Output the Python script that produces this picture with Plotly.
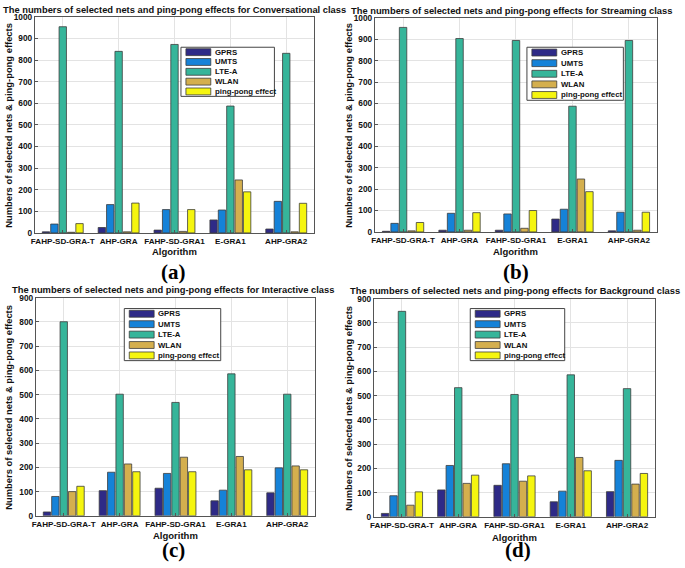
import plotly.graph_objects as go

algorithms = ["FAHP-SD-GRA-T", "AHP-GRA", "FAHP-SD-GRA1", "E-GRA1", "AHP-GRA2"]
series_names = ["GPRS", "UMTS", "LTE-A", "WLAN", "ping-pong effect"]
series_colors = ["#2E2A87", "#1582D8", "#36B59A", "#D4AF4E", "#F5F50F"]

# (a) Conversational class
conv_gprs = [5, 25, 13, 60, 18]
conv_umts = [41, 131, 108, 106, 146]
conv_lte = [954, 840, 872, 587, 831]
conv_wlan = [3, 5, 7, 245, 5]
conv_ping = [43, 138, 108, 190, 137]

# (b) Streaming class
stream_gprs = [3, 8, 8, 60, 5]
stream_umts = [40, 87, 84, 106, 92]
stream_lte = [955, 903, 894, 587, 894]
stream_wlan = [5, 8, 17, 247, 8]
stream_ping = [44, 90, 100, 188, 92]

# (c) Interactive class
inter_gprs = [16, 104, 114, 62, 95]
inter_umts = [80, 180, 175, 106, 198]
inter_lte = [801, 502, 468, 586, 502]
inter_wlan = [100, 214, 242, 245, 206]
inter_ping = [122, 182, 182, 190, 190]

# (d) Background class
back_gprs = [14, 111, 130, 62, 104]
back_umts = [87, 212, 219, 106, 233]
back_lte = [848, 533, 505, 586, 529]
back_wlan = [48, 138, 147, 245, 135]
back_ping = [103, 172, 169, 190, 179]

panel_titles = [
    "The numbers of selected nets and ping-pong effects for Conversational class",
    "The numbers of selected nets and ping-pong effects for Streaming class",
    "The numbers of selected nets and ping-pong effects for Interactive class",
    "The numbers of selected nets and ping-pong effects for Background class",
]
panel_letters = ["(a)", "(b)", "(c)", "(d)"]
y_maxes = [1000, 1000, 900, 900]

panels = [
    [conv_gprs, conv_umts, conv_lte, conv_wlan, conv_ping],
    [stream_gprs, stream_umts, stream_lte, stream_wlan, stream_ping],
    [inter_gprs, inter_umts, inter_lte, inter_wlan, inter_ping],
    [back_gprs, back_umts, back_lte, back_wlan, back_ping],
]

W, H = 685, 568
# plot rectangles in pixels: (x0, x1, ytop, ybottom)
rects = [(31, 312, 12, 232), (373, 657, 13, 231), (32, 313, 298, 520), (372, 655, 299, 521)]
legend_boxes = [(178, 43, 272, 93), (526, 43, 623, 97), (121, 309, 218, 362), (469, 309, 564, 362)]
title_pos = [(171, 5), (510, 6), (170, 290), (514, 291)]
ytitle_x = [5, 347, 5, 347]
algo_pos = [251, 251, 540, 542]
letter_pos = [(170, 272), (515, 272), (170, 555), (517, 555)]

FONT = "Liberation Sans"
TXT = "#111111"
fig = go.Figure()
layout = {}
annotations = []
shapes = []


def px(x):
    return x / W


def py(y):
    return 1 - y / H


for p in range(4):
    ax = "" if p == 0 else str(p + 1)
    for s in range(5):
        fig.add_trace(go.Bar(
            x=algorithms, y=panels[p][s], name=series_names[s],
            marker=dict(color=series_colors[s], line=dict(color="#3c3c3c", width=0.8)),
            xaxis="x" + ax, yaxis="y" + ax, showlegend=False,
        ))
    x0, x1, yt, yb = rects[p]
    layout["xaxis" + ax] = dict(
        domain=[px(x0), px(x1)], anchor="y" + ax, type="category",
        range=[-0.5, 4.5], showgrid=True, gridcolor="#e3e3e3", gridwidth=1,
        showline=True, linecolor="#555", linewidth=1, mirror=True,
        ticks="inside", ticklen=3, tickcolor="#555", tickangle=0,
        tickfont=dict(family=FONT, size=8.1, color=TXT, weight="bold"),
    )
    layout["yaxis" + ax] = dict(
        domain=[py(yb), py(yt)], anchor="x" + ax,
        range=[0, y_maxes[p]], dtick=100, showgrid=True, gridcolor="#e3e3e3",
        showline=True, linecolor="#555", linewidth=1, mirror=True,
        ticks="inside", ticklen=3, tickcolor="#555", zeroline=False,
        tickfont=dict(family=FONT, size=8.3, color=TXT, weight="bold"),
    )
    # legend drawn as box + swatches + text
    bx0, by0, bx1, by1 = legend_boxes[p]
    shapes.append(dict(type="rect", xref="paper", yref="paper",
                       x0=px(bx0), x1=px(bx1), y0=py(by1), y1=py(by0),
                       line=dict(color="#444", width=1), fillcolor="white", layer="above"))
    step = (by1 - by0) / 5.0
    for s in range(5):
        cy = by0 + step * (s + 0.5)
        shapes.append(dict(type="rect", xref="paper", yref="paper",
                           x0=px(bx0 + 5), x1=px(bx0 + 30), y0=py(cy + 3.5), y1=py(cy - 3.5),
                           line=dict(color="#3c3c3c", width=0.8),
                           fillcolor=series_colors[s], layer="above"))
        annotations.append(dict(
            text=series_names[s], x=px(bx0 + 32), y=py(cy), xref="paper", yref="paper",
            xanchor="left", yanchor="middle", showarrow=False,
            font=dict(family=FONT, size=7.8, color=TXT, weight="bold"),
        ))
    tx, ty = title_pos[p]
    annotations.append(dict(
        text=panel_titles[p], x=px(tx), y=py(ty), xref="paper", yref="paper",
        xanchor="center", yanchor="middle", showarrow=False,
        font=dict(family=FONT, size=9.35, color=TXT, weight="bold"),
    ))
    annotations.append(dict(
        text="Numbers of selected nets & ping-pong effects",
        x=px(ytitle_x[p]), y=py((yt + yb) / 2), xref="paper", yref="paper",
        xanchor="center", yanchor="middle", textangle=-90, showarrow=False,
        font=dict(family=FONT, size=9.4, color=TXT, weight="bold"),
    ))
    annotations.append(dict(
        text="Algorithm", x=px((x0 + x1) / 2), y=py(algo_pos[p]),
        xref="paper", yref="paper", xanchor="center", yanchor="middle", showarrow=False,
        font=dict(family=FONT, size=9.5, color=TXT, weight="bold"),
    ))
    lx2, ly2 = letter_pos[p]
    annotations.append(dict(
        text=panel_letters[p], x=px(lx2), y=py(ly2),
        xref="paper", yref="paper", xanchor="center", yanchor="middle", showarrow=False,
        font=dict(family="Liberation Serif", size=21, color="#000", weight="bold"),
    ))

fig.update_layout(
    width=W, height=H, margin=dict(l=0, r=0, t=0, b=0),
    paper_bgcolor="white", plot_bgcolor="white", showlegend=False,
    barmode="group", bargap=0.25, bargroupgap=0.12,
    annotations=annotations, shapes=shapes, **layout,
)
fig.write_html(
    "out.html",
    config={"displayModeBar": False},
    post_script="document.body.style.margin='0';document.body.style.overflow='hidden';",
)
